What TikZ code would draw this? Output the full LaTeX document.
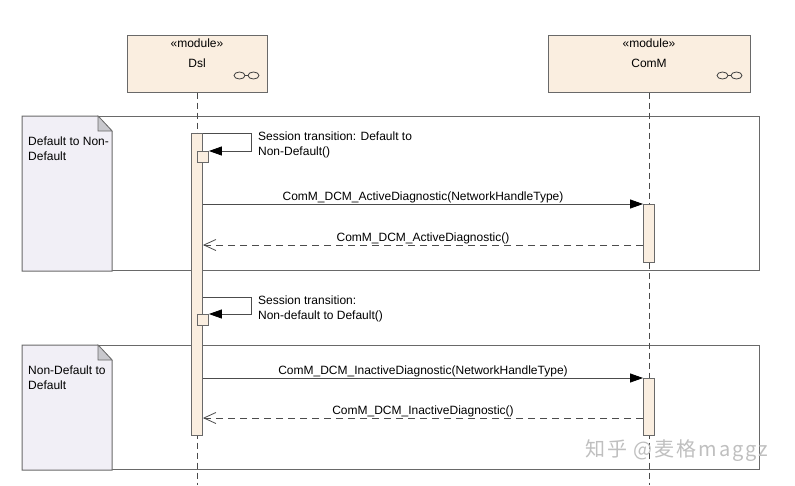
\documentclass[tikz,border=0pt]{standalone}
\usepackage{fontspec}
\setmainfont{Liberation Sans}
\newfontfamily\cjkfont[LetterSpace=10]{Noto Sans CJK SC}
\usetikzlibrary{calc,arrows.meta,positioning}
\definecolor{moduleBeige}{RGB}{250,238,224}
\definecolor{noteLilac}{RGB}{241,239,246}
\definecolor{lineGray}{RGB}{105,105,105}
\definecolor{foldGray}{RGB}{200,200,205}
\tikzset{
  module/.style={draw=lineGray,fill=moduleBeige,line width=1pt,minimum height=57pt,inner sep=0pt},
  lifeline/.style={draw=lineGray!70!black,line width=0.8pt,dash pattern=on 6pt off 4pt},
  activation/.style={draw=lineGray,fill=moduleBeige,line width=0.9pt,minimum width=11pt,inner sep=0pt},
  fragment/.style={draw=lineGray,line width=1pt,anchor=north west,minimum width=737pt,inner sep=0pt},
  call/.style={draw=black!70,line width=0.8pt,-{Triangle[length=13pt,width=9pt,color=black]}},
  reply/.style={draw=black!70,line width=0.8pt,dash pattern=on 7pt off 5pt,-{Straight Barb[length=12pt,width=11pt]}},
  msglabel/.style={above,inner sep=1pt},
  textblock/.style={anchor=north west,align=left,inner sep=0pt}
}

\begin{document}
\begin{tikzpicture}[x=1pt,y=-1pt,font=\fontsize{12}{15}\selectfont]
\fill[white] (0,0) rectangle (795,485);
\useasboundingbox (0,0) rectangle (795,485);

\node[fragment,minimum height=154pt] (fragA) at (22,116) {};
\node[fragment,minimum height=124pt] (fragB) at (22,345) {};
\foreach \f in {fragA,fragB}{
  \draw[draw=lineGray,fill=noteLilac,line width=1pt] (\f.north west) -- ++(76,0) -- ++(14,15) |- (\f.south west) -- cycle;
  \filldraw[draw=lineGray,fill=foldGray,line width=0.6pt] ($(\f.north west)+(76,0)$) -- ++(14,15) -- ++(-14,0) -- cycle;
}
\node[textblock] (noteTextA) at ($(fragA.north west)+(6,21)$) {Default to Non-\\Default};
\node[textblock] (noteTextB) at ($(fragB.north west)+(6,21)$) {Non-Default to\\Default};

\node[module,minimum width=140pt] (dsl) at (197,63.5) {};
\node[module,minimum width=202pt] (comm) at (649,63.5) {};
\foreach \m/\t in {dsl/Dsl,comm/ComM}{
  \node[anchor=base] at ($(\m.north)+(0,13)$) {«module»};
  \node[anchor=base] at ($(\m.north)+(0,33)$) {\t};
  \draw[lineGray!60!black,line width=0.8pt] ($(\m.south east)+(-28,-17)$) ellipse (5.5pt and 3.5pt)
    ($(\m.south east)+(-22.5,-17)$) -- ($(\m.south east)+(-19.5,-17)$)
    ($(\m.south east)+(-14,-17)$) ellipse (5.5pt and 3.5pt);
  \coordinate (\m End) at (\m.south |- 0,485);
  \draw[lifeline] (\m.south) -- (\m End);
}

\node[activation,anchor=north,minimum height=302pt] (dslBar) at (197,133) {};
\node[activation,anchor=north,minimum height=58pt] (commBarA) at (649,204) {};
\node[activation,anchor=north,minimum height=57pt] (commBarB) at (649,378) {};
\node[activation,minimum size=11pt,anchor=north west] (sqA) at (197,151) {};
\node[activation,minimum size=11pt,anchor=north west] (sqB) at (197,314) {};

\coordinate (selfB) at (dslBar.east |- 0,297);
\draw[call] (dslBar.north east) -- ++(48,0) |- (sqA.north east);
\draw[call] (selfB) -- ++(48,0) |- (sqB.north east);
\node[textblock] (selfLabelA) at ($(dslBar.north east)+(55,-1.5)$) {Session transition: Default to\\Non-Default()};
\node[textblock] (selfLabelB) at ($(selfB)+(55,-1.5)$) {Session transition:\\Non-default to Default()};

\coordinate (replyA) at (0,245);
\coordinate (replyB) at (0,418);
\draw[call] (dslBar.east |- commBarA.north) -- (commBarA.north west) node[msglabel,midway] {ComM\_DCM\_ActiveDiagnostic(NetworkHandleType)};
\draw[reply] (commBarA.west |- replyA) -- (dslBar.east |- replyA) node[msglabel,midway] {ComM\_DCM\_ActiveDiagnostic()};
\draw[call] (dslBar.east |- commBarB.north) -- (commBarB.north west) node[msglabel,midway] {ComM\_DCM\_InactiveDiagnostic(NetworkHandleType)};
\draw[reply] (commBarB.west |- replyB) -- (dslBar.east |- replyB) node[msglabel,midway] {ComM\_DCM\_InactiveDiagnostic()};

\node[text=gray!50,font=\cjkfont\fontsize{20}{20}\selectfont] (watermark) at (677,451) {知乎 @麦格maggz};
\end{tikzpicture}
\end{document}
